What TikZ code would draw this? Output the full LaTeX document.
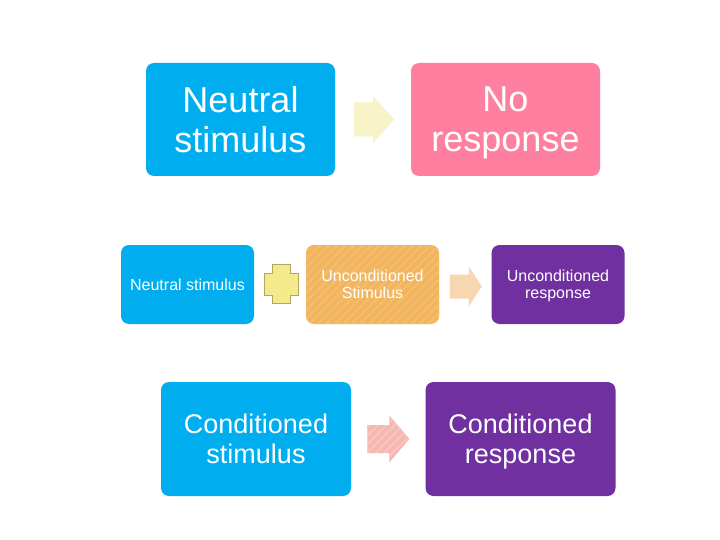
\documentclass[tikz,border=0pt]{standalone}
\usepackage{fontspec}
\setmainfont{Liberation Sans}
\usetikzlibrary{calc,patterns.meta}
\definecolor{cyanbox}{RGB}{0,174,239}
\definecolor{pinkbox}{RGB}{255,127,161}
\definecolor{orangebox}{RGB}{242,180,92}
\definecolor{purplebox}{RGB}{112,48,160}
\definecolor{plusfill}{RGB}{244,234,140}
\definecolor{plusline}{RGB}{175,167,100}
\definecolor{arrowyellow}{RGB}{247,243,196}
\definecolor{arrowpeach}{RGB}{248,214,178}
\definecolor{arrowsalmon}{RGB}{246,183,176}
\newcommand{\blockarrow}[6]{%
  \fill[#6] ($(#1)+(-#2,-#4)$) -- ($(#1)+(#2-#3,-#4)$) -- ($(#1)+(#2-#3,-#5)$)
    -- ($(#1)+(#2,0)$) -- ($(#1)+(#2-#3,#5)$) -- ($(#1)+(#2-#3,#4)$)
    -- ($(#1)+(-#2,#4)$) -- cycle;}
\begin{document}
\begin{tikzpicture}[x=1pt,y=-1pt,
    box/.style={rounded corners=8pt,inner sep=0pt,align=center,text=white},
    bigbox/.style={box,minimum width=189pt,minimum height=113pt,font=\fontsize{36}{40}\selectfont},
    midbox/.style={box,minimum width=190pt,minimum height=114pt,font=\fontsize{27}{30}\selectfont},
    smallbox/.style={box,minimum width=133pt,minimum height=79pt,font=\fontsize{16}{17}\selectfont},
    stripes/.style={postaction={pattern={Lines[angle=45,distance=6pt,line width=2pt]},pattern color=#1}}]
  \useasboundingbox[fill=white] (0,0) rectangle (720,540);
  % top row
  \node[bigbox,fill=cyanbox] (ns) at (240.5,119.5) {Neutral\\stimulus};
  \node[bigbox,fill=pinkbox] (nr) at (505.5,119.5) {No\\res\smash{p}onse};
  % middle row
  \node[smallbox,fill=cyanbox] (ns2) at (187.5,284.5) {Neutral stimulus};
  \node[smallbox,fill=orangebox,stripes=orangebox!88!white] (us) at (372.5,284.5) {Unconditioned\\Stimulus};
  \node[smallbox,fill=purplebox] (ur) at (558,284.5) {Unconditioned\\res\smash{p}onse};
  % bottom row
  \node[midbox,fill=cyanbox] (cs) at (256,439) {Conditioned\\stimulus};
  \node[midbox,fill=purplebox] (cr) at (520.5,439) {Conditioned\\res\smash{p}onse};
  % arrows and plus
  \coordinate (a1) at ($(ns.east)!0.5!(nr.west)+(1,0)$);
  \coordinate (a2) at ($(us.east)!0.5!(ur.west)+(0.5,2)$);
  \coordinate (a3) at ($(cs.east)!0.5!(cr.west)$);
  \coordinate (p1) at ($(ns2.east)!0.5!(us.west)+(1,-1)$);
  \blockarrow{a1}{20}{21}{17}{23.5}{fill=arrowyellow,stripes=arrowyellow!85!white}
  \blockarrow{a2}{16}{13}{12}{20}{fill=arrowpeach}
  \blockarrow{a3}{21}{20}{14}{23.5}{fill=arrowsalmon,stripes=arrowsalmon!80!white}
  \draw[plusline,fill=plusfill,line width=1pt]
    ($(p1)+(-9,-19.5)$) -- ($(p1)+(9,-19.5)$) -- ($(p1)+(9,-10.5)$) -- ($(p1)+(17,-10.5)$)
    -- ($(p1)+(17,11.5)$) -- ($(p1)+(9,11.5)$) -- ($(p1)+(9,19.5)$) -- ($(p1)+(-9,19.5)$)
    -- ($(p1)+(-9,11.5)$) -- ($(p1)+(-17,11.5)$) -- ($(p1)+(-17,-10.5)$) -- ($(p1)+(-9,-10.5)$) -- cycle;
\end{tikzpicture}
\end{document}
